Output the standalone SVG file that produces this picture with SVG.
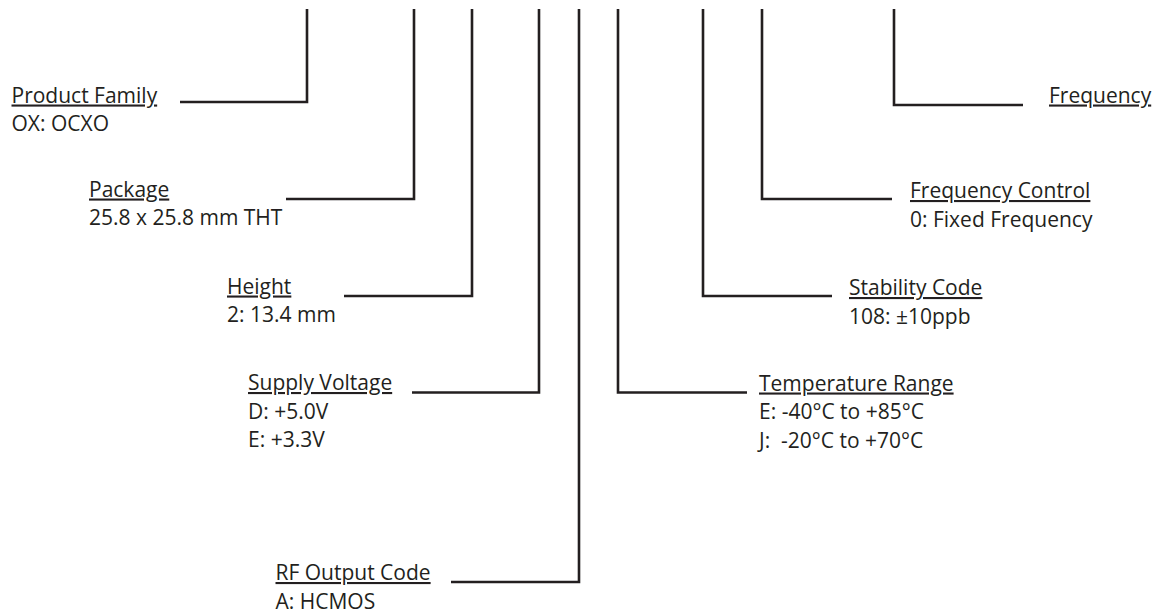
<svg xmlns="http://www.w3.org/2000/svg" width="1159" height="613" viewBox="0 0 1159 613">
  <style>
    text { font-family: "Open Sans", "Noto Sans", "Liberation Sans", sans-serif; font-size: 21px; fill: #231f20; white-space: pre; }
    .hd { text-decoration: underline; }
    .ln { fill: none; stroke: #231f20; stroke-width: 2.6; stroke-linejoin: miter; stroke-linecap: butt; }
  </style>
  <rect width="1159" height="613" fill="#ffffff"/>
  <g id="connectors">
    <polyline class="ln" points="307,9 307,102 180,102"/>
    <polyline class="ln" points="414,9 414,199 286,199"/>
    <polyline class="ln" points="472,9 472,296 344,296"/>
    <polyline class="ln" points="539,9 539,392.5 412,392.5"/>
    <polyline class="ln" points="579,9 579,582 451,582"/>
    <polyline class="ln" points="618,9 618,392.5 747,392.5"/>
    <polyline class="ln" points="703,9 703,296 832,296"/>
    <polyline class="ln" points="762,9 762,199 892,199"/>
    <polyline class="ln" points="894,9 894,105 1023,105"/>
  </g>
  <g id="product-family">
    <text class="hd" x="11.5" y="102.5">Product Family</text>
    <text x="11.5" y="131">OX: OCXO</text>
  </g>
  <g id="package">
    <text class="hd" x="89" y="196.5">Package</text>
    <text x="89" y="225">25.8 x 25.8 mm THT</text>
  </g>
  <g id="height">
    <text class="hd" x="227" y="293.5">Height</text>
    <text x="227" y="322">2: 13.4 mm</text>
  </g>
  <g id="supply-voltage">
    <text class="hd" x="248" y="390">Supply Voltage</text>
    <text x="248" y="418.5">D: +5.0V</text>
    <text x="248" y="447">E: +3.3V</text>
  </g>
  <g id="rf-output-code">
    <text class="hd" x="275.5" y="580">RF Output Code</text>
    <text x="275.5" y="608.5">A: HCMOS</text>
  </g>
  <g id="temperature-range">
    <text class="hd" x="759" y="390.5">Temperature Range</text>
    <text x="759" y="419">E: -40°C to +85°C</text>
    <text x="759" y="447.5">J:  -20°C to +70°C</text>
  </g>
  <g id="stability-code">
    <text class="hd" x="849" y="295">Stability Code</text>
    <text x="849" y="323.5">108: ±10ppb</text>
  </g>
  <g id="frequency-control">
    <text class="hd" x="910" y="198">Frequency Control</text>
    <text x="910" y="226.5">0: Fixed Frequency</text>
  </g>
  <g id="frequency">
    <text class="hd" x="1049" y="102.5">Frequency</text>
  </g>
</svg>
